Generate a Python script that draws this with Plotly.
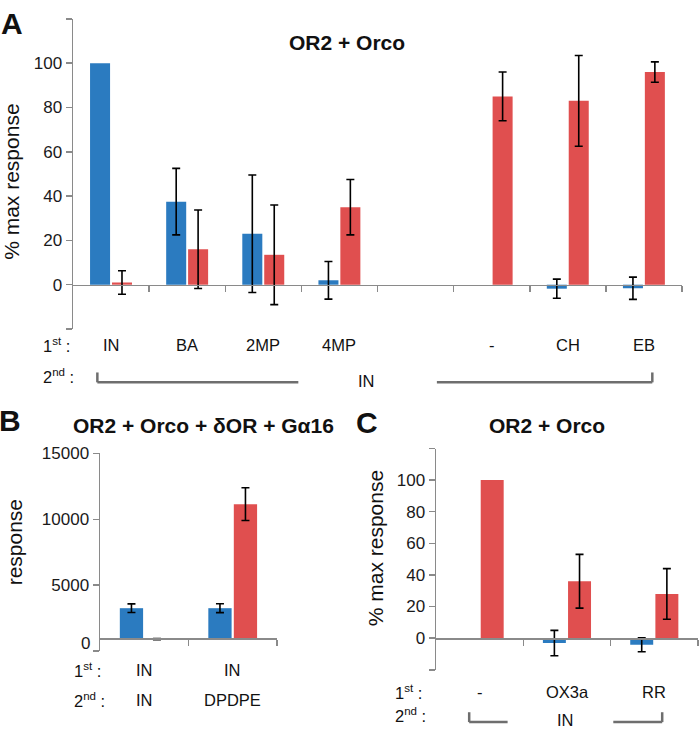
import plotly.graph_objects as go

W, H = 700, 730
BLUE = "#2b7bc0"
RED = "#e04f4f"
AXC = "#8a8a8a"
BRC = "#6e6e6e"
FONT = "Liberation Sans, Arial, sans-serif"

# ---------------- Panel A data ----------------
a_first = ["IN", "BA", "2MP", "4MP", "", "-", "CH", "EB"]
a_second = "IN"
a_blue = [100, 37.5, 23, 2, None, None, -1.8, -1.6]
a_blue_err = [None, 15, 26.5, 8.5, None, None, 4.3, 5.0]
a_red = [1, 16, 13.5, 35, None, 85, 83, 96]
a_red_err = [5.3, 17.7, 22.5, 12.5, None, 11, 20.5, 4.6]
a_yticks = [0, 20, 40, 60, 80, 100]
a_yticks_unlabelled = [-20, 120]

# ---------------- Panel B data ----------------
b_first = ["IN", "IN"]
b_second = ["IN", "DPDPE"]
b_blue = [3250, 3250]
b_blue_err = [330, 340]
b_red = [900, 11150]
b_red_err = [40, 1240]
b_cross = 950
b_yticks = [0, 5000, 10000, 15000]

# ---------------- Panel C data ----------------
c_first = ["-", "OX3a", "RR"]
c_second = "IN"
c_blue = [None, -3.1, -4.2]
c_blue_err = [None, 8, 4.4]
c_red = [100, 36, 28]
c_red_err = [None, 17, 16]
c_yticks = [0, 20, 40, 60, 80, 100]
c_yticks_unlabelled = [-20, 120]


def px(x):
    return x / W


def py(y):
    return 1 - y / H


BW = 0.263
BOFF = -0.276
ROFF = 0.012

domA_x = [px(73), px(682)]
domA_y = [py(324), py(10)]
domB_x = [px(100), px(277)]
domB_y = [py(650), py(450)]
domC_x = [px(436), px(698)]
domC_y = [py(669), py(445)]

rA = [-20, 120]
rB = [0, 15000]
rC = [-20, 120]


def ypos(dom, rng, v):
    return dom[0] + (v - rng[0]) / (rng[1] - rng[0]) * (dom[1] - dom[0])


fig = go.Figure()


def add_series(vals, errs, color, offset, xaxis, yaxis, base=None):
    """Bars with error bars, and bars whose error is missing drawn without error bars."""
    with_e = [(i, v, e) for i, (v, e) in enumerate(zip(vals, errs)) if v is not None and e is not None]
    no_e = [(i, v) for i, (v, e) in enumerate(zip(vals, errs)) if v is not None and e is None]
    b = 0 if base is None else base
    if with_e:
        fig.add_trace(go.Bar(
            x=[t[0] for t in with_e], y=[t[1] - b for t in with_e], base=base,
            width=BW, offset=offset, marker=dict(color=color, line=dict(width=0)),
            error_y=dict(type="data", array=[t[2] for t in with_e], color="black",
                         thickness=1.6, width=4, visible=True),
            xaxis=xaxis, yaxis=yaxis, showlegend=False))
    if no_e:
        fig.add_trace(go.Bar(
            x=[t[0] for t in no_e], y=[t[1] - b for t in no_e], base=base,
            width=BW, offset=offset, marker=dict(color=color, line=dict(width=0)),
            xaxis=xaxis, yaxis=yaxis, showlegend=False))


add_series(a_blue, a_blue_err, BLUE, BOFF, "x", "y")
add_series(a_red, a_red_err, RED, ROFF, "x", "y")
add_series(b_blue, b_blue_err, BLUE, BOFF, "x2", "y2", base=b_cross)
add_series(b_red, b_red_err, RED, ROFF, "x2", "y2", base=b_cross)
add_series(c_blue, c_blue_err, BLUE, BOFF, "x3", "y3")
add_series(c_red, c_red_err, RED, ROFF, "x3", "y3")


def yax(dom, rng, ticks, labels, anchor, extra=None):
    d = dict(domain=dom, range=rng, tickvals=ticks, ticktext=labels, ticks="outside", ticklen=6,
             tickwidth=1.5, tickcolor=AXC, showline=True, linecolor=AXC, linewidth=1.5,
             showgrid=False, zeroline=False, anchor=anchor,
             tickfont=dict(size=17, color="#1a1a1a", family=FONT), fixedrange=True)
    if extra:
        d["minor"] = dict(tickvals=extra, ticks="outside", ticklen=6, tickwidth=1.5,
                          tickcolor=AXC, showgrid=False)
    return d


def xax(dom, n, pos):
    return dict(domain=dom, range=[-0.5, n - 0.5], anchor="free", position=pos,
                tickvals=[i + 0.5 for i in range(n)], showticklabels=False,
                ticks="outside", ticklen=6, tickwidth=1.5, tickcolor=AXC, showline=True,
                linecolor=AXC, linewidth=1.5, showgrid=False, zeroline=False, fixedrange=True)


a_lab = [str(v) for v in a_yticks]
c_lab = [str(v) for v in c_yticks]
# the lowest label of panel B sits slightly above its tick in the original, drawn separately below
b_lab = [str(v) for v in b_yticks[1:]]

fig.update_layout(
    width=W, height=H, margin=dict(l=0, r=0, t=0, b=0), autosize=False,
    paper_bgcolor="white", plot_bgcolor="white", barmode="overlay",
    font=dict(family=FONT, color="#1a1a1a"),
    xaxis=xax(domA_x, len(a_first), ypos(domA_y, rA, 0)),
    yaxis=yax(domA_y, rA, a_yticks, a_lab, "x", a_yticks_unlabelled),
    xaxis2=xax(domB_x, len(b_first), ypos(domB_y, rB, b_cross)),
    yaxis2=yax(domB_y, rB, b_yticks[1:], b_lab, "x2", b_yticks[:1]),
    xaxis3=xax(domC_x, len(c_first), ypos(domC_y, rC, 0)),
    yaxis3=yax(domC_y, rC, c_yticks, c_lab, "x3", c_yticks_unlabelled),
)

ann = []


def txt(t, x, y, size=16.5, bold=False, angle=0, xanchor="center", xref="paper"):
    ann.append(dict(text=("<b>%s</b>" % t) if bold else t, x=x if xref != "paper" else px(x),
                    y=py(y), xref=xref, yref="paper", showarrow=False, textangle=angle,
                    xanchor=xanchor, yanchor="middle",
                    font=dict(size=size, family=FONT, color="#111")))


# Panel letters and titles
txt("A", 12, 15, size=30, bold=True)
txt("B", 10, 417, size=30, bold=True)
txt("C", 367, 419, size=30, bold=True)
txt("OR2 + Orco", 347, 34, size=21, bold=True)
txt("OR2 + Orco + δOR + Gα16", 203, 422, size=21, bold=True)
txt("OR2 + Orco", 547, 422, size=21, bold=True)

# y titles
txt("% max response", 12, 175, size=21, angle=-90)
txt("response", 14, 540, size=21, angle=-90)
txt("% max response", 375, 546, size=21, angle=-90)

# lowest tick label of panel B (sits a little above its tick in the original)
ann.append(dict(text=str(b_yticks[0]), x=px(92), y=py(642), xref="paper", yref="paper",
                showarrow=False, xanchor="right", yanchor="middle",
                font=dict(size=17, family=FONT, color="#1a1a1a")))

# Row labels
SUP1 = "1<sup>st</sup> :"
SUP2 = "2<sup>nd</sup> :"
txt(SUP1, 41, 340, xanchor="left")
txt(SUP2, 41, 372, xanchor="left")
txt(SUP1, 72, 669, xanchor="left")
txt(SUP2, 72, 700, xanchor="left")
txt(SUP1, 393, 692, xanchor="left")
txt(SUP2, 393, 715, xanchor="left")

for i, t in enumerate(a_first):
    if t:
        txt(t, i, 340, xref="x")
txt(a_second, 367, 377)
for i, t in enumerate(b_first):
    txt(t, i, 669, xref="x2")
for i, t in enumerate(b_second):
    txt(t, i, 700, xref="x2")
for i, t in enumerate(c_first):
    txt(t, i, 692, xref="x3")
txt(c_second, 565, 720)

fig.update_layout(annotations=ann)

# Brackets for the shared 2nd stimulus
shapes = []


def seg(x0, y0, x1, y1, xref):
    shapes.append(dict(type="line", x0=x0, x1=x1, y0=py(y0), y1=py(y1), xref=xref, yref="paper",
                       line=dict(color=BRC, width=2.5)))


seg(-0.18, 368, -0.18, 378, "x")
seg(-0.18, 378, 2.46, 378, "x")
seg(4.28, 378, 7.11, 378, "x")
seg(7.11, 368, 7.11, 378, "x")
seg(-0.12, 712, -0.12, 722, "x3")
seg(-0.12, 722, 0.32, 722, "x3")
seg(1.53, 722, 2.09, 722, "x3")
seg(2.09, 712, 2.09, 722, "x3")
fig.update_layout(shapes=shapes)

fig.write_html("out.html", config={"displayModeBar": False, "staticPlot": True},
               post_script="document.body.style.margin='0';document.body.style.overflow='hidden';")
